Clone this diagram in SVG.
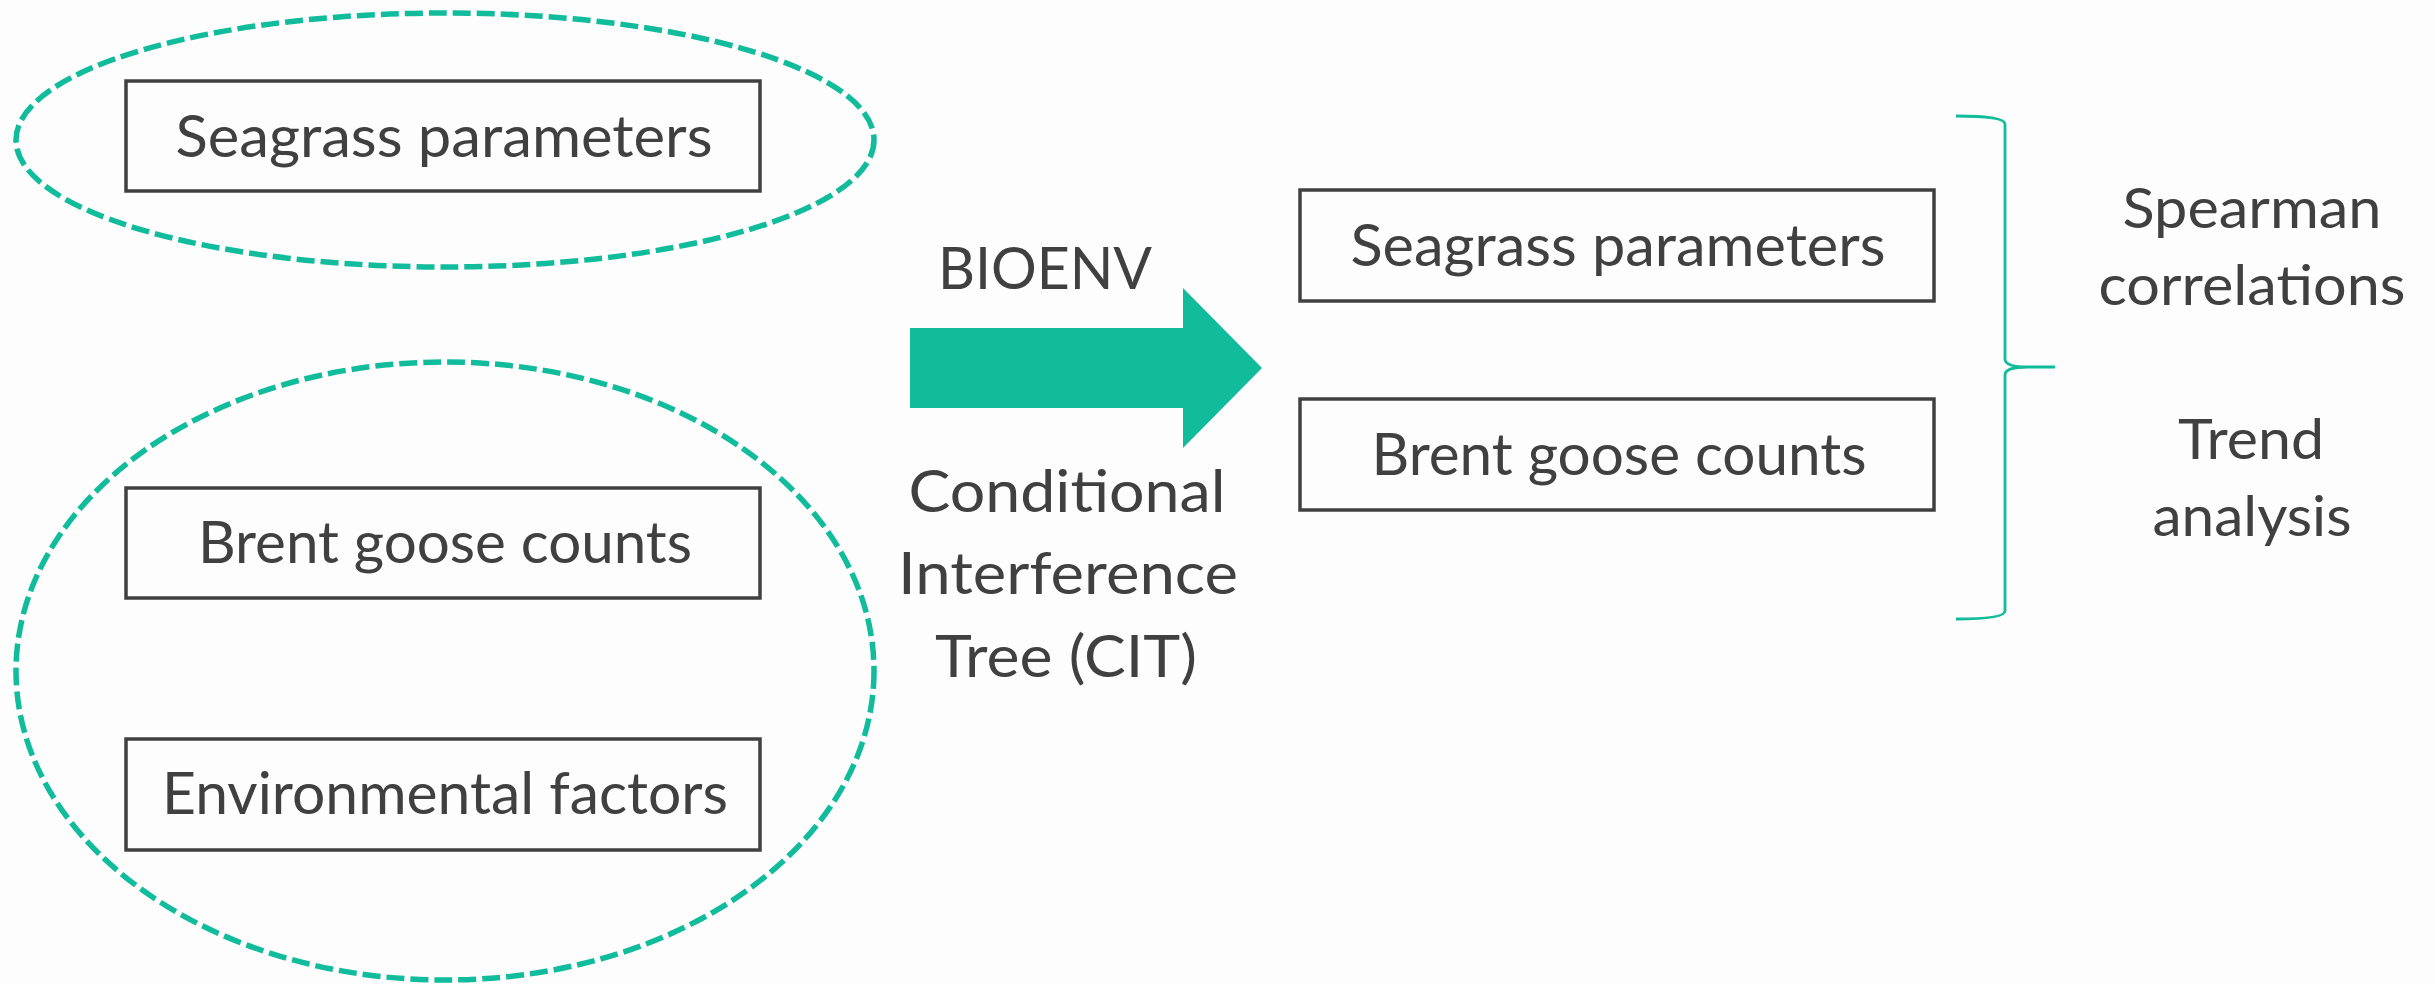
<svg xmlns="http://www.w3.org/2000/svg" width="2435" height="984" viewBox="0 0 2435 984">
<style>
.bg{fill:#FDFDFD}
.grp{fill:none;stroke:#10BC9B;stroke-width:5.5;stroke-dasharray:18 6}
.box{fill:none;stroke:#404040;stroke-width:3.5}
.t{font-family:Lato,"Open Sans","Liberation Sans",sans-serif;fill:#404040;text-anchor:middle}
.bt{font-size:58px}
.mt{font-size:59px}
.rt{font-size:56px}
.brace{fill:none;stroke:#10BC9B;stroke-width:2.8}
.arrow{fill:#10BC9B}
</style>
<rect class="bg" x="0" y="0" width="2435" height="984"/>
<g id="group-top">
<ellipse class="grp" cx="445" cy="140" rx="429" ry="127"/>
</g>
<g id="group-bottom">
<ellipse class="grp" cx="445" cy="671" rx="429" ry="309"/>
</g>
<g id="node-seagrass-left">
<rect class="box" x="126" y="81" width="634" height="110"/>
<text class="t bt" x="444" y="157" textLength="537" lengthAdjust="spacingAndGlyphs">Seagrass parameters</text>
</g>
<g id="node-brent-left">
<rect class="box" x="126" y="488" width="634" height="110"/>
<text class="t bt" x="445" y="563" textLength="494" lengthAdjust="spacingAndGlyphs">Brent goose counts</text>
</g>
<g id="node-env-left">
<rect class="box" x="126" y="739" width="634" height="111"/>
<text class="t bt" x="445" y="814" textLength="566" lengthAdjust="spacingAndGlyphs">Environmental factors</text>
</g>
<g id="connectors">
<polygon class="arrow" points="910,328 1183,328 1183,288 1262,368 1183,448 1183,408 910,408"/>
<path class="brace" d="M1956,116 C1985,116 2005,118 2005,124 L2005,359 Q2005,367 2028,367 L2055,367 M2028,367 Q2005,367 2005,375 L2005,611 C2005,617 1985,619 1956,619"/>
</g>
<g id="label-method">
<text class="t mt" x="1045" y="289" textLength="214" lengthAdjust="spacingAndGlyphs">BIOENV</text>
<text class="t mt" x="1067" y="512" textLength="317" lengthAdjust="spacingAndGlyphs">Conditional</text>
<text class="t mt" x="1068" y="594" textLength="340" lengthAdjust="spacingAndGlyphs">Interference</text>
<text class="t mt" x="1066" y="677" textLength="262" lengthAdjust="spacingAndGlyphs">Tree (CIT)</text>
</g>
<g id="node-seagrass-right">
<rect class="box" x="1300" y="190" width="634" height="111"/>
<text class="t bt" x="1618" y="266" textLength="535" lengthAdjust="spacingAndGlyphs">Seagrass parameters</text>
</g>
<g id="node-brent-right">
<rect class="box" x="1300" y="399" width="634" height="111"/>
<text class="t bt" x="1619" y="475" textLength="495" lengthAdjust="spacingAndGlyphs">Brent goose counts</text>
</g>
<g id="label-analysis">
<text class="t rt" x="2252" y="228" textLength="259" lengthAdjust="spacingAndGlyphs">Spearman</text>
<text class="t rt" x="2252" y="305" textLength="307" lengthAdjust="spacingAndGlyphs">correlations</text>
<text class="t rt" x="2251" y="459" textLength="146" lengthAdjust="spacingAndGlyphs">Trend</text>
<text class="t rt" x="2252" y="536" textLength="199" lengthAdjust="spacingAndGlyphs">analysis</text>
</g>
</svg>
